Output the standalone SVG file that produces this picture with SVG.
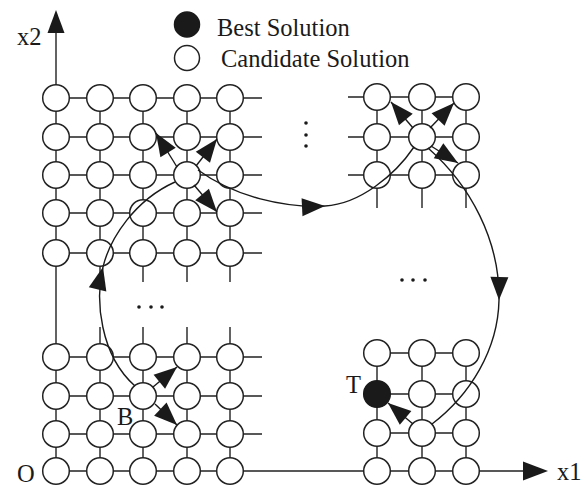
<svg xmlns="http://www.w3.org/2000/svg" width="586" height="488" viewBox="0 0 586 488">
<style>
.ln{fill:none;stroke:#222;stroke-width:1.4}
.nd{fill:#fff;stroke:#222;stroke-width:1.5}
.best{fill:#1a1a1a;stroke:#1a1a1a;stroke-width:1.5}
.head{fill:#1a1a1a;stroke:none}
.cv{fill:none;stroke:#1a1a1a;stroke-width:1.4}
.tx{font-family:"Liberation Serif","Times New Roman",serif;font-size:24.5px;fill:#1a1a1a}
.dot{fill:#1a1a1a}
</style>
<defs>
<marker id="ah" viewBox="-25 -10 26 20" refX="0" refY="0" markerWidth="26" markerHeight="20" markerUnits="userSpaceOnUse" orient="auto">
<path d="M0,0 L-23,-9 L-23,9 Z" fill="#1a1a1a"/>
</marker>
</defs>
<rect width="586" height="488" fill="#fff"/>
<g id="grid-lines" class="ln">
<path d="M56,33 V471 M56,471 H525"/>
<path d="M56,98 H262 M56,137 H262 M56,175 H262 M56,213 H262 M56,253 H262"/>
<path d="M100,98 V282 M143,98 V282 M187,98 V282 M230,98 V282"/>
<path d="M56,357 H262 M56,396 H262 M56,434 H262"/>
<path d="M100,327 V471 M143,327 V471 M187,327 V471 M230,327 V471"/>
<path d="M348,97 H466 M348,137 H466 M348,175 H466"/>
<path d="M377,97 V208 M422,97 V208 M466,97 V208"/>
<path d="M377,353 H466 M377,394 H466 M377,433 H466"/>
<path d="M377,353 V471 M422,353 V471 M466,353 V471"/>
</g>
<g id="axes">
<polygon class="head" points="56,10 47.5,33 64.5,33"/>
<polygon class="head" points="548,471 523,461.5 523,480.5"/>
<text class="tx" x="17" y="45">x2</text>
<text class="tx" x="557" y="480">x1</text>
<text class="tx" x="17" y="482">O</text>
</g>
<g id="nodes-top-left">
<g id="tl-1-1"><circle class="nd" cx="56" cy="98" r="13.3"/></g>
<g id="tl-1-2"><circle class="nd" cx="100" cy="98" r="13.3"/></g>
<g id="tl-1-3"><circle class="nd" cx="143" cy="98" r="13.3"/></g>
<g id="tl-1-4"><circle class="nd" cx="187" cy="98" r="13.3"/></g>
<g id="tl-1-5"><circle class="nd" cx="230" cy="98" r="13.3"/></g>
<g id="tl-2-1"><circle class="nd" cx="56" cy="137" r="13.3"/></g>
<g id="tl-2-2"><circle class="nd" cx="100" cy="137" r="13.3"/></g>
<g id="tl-2-3"><circle class="nd" cx="143" cy="137" r="13.3"/></g>
<g id="tl-2-4"><circle class="nd" cx="187" cy="137" r="13.3"/></g>
<g id="tl-2-5"><circle class="nd" cx="230" cy="137" r="13.3"/></g>
<g id="tl-3-1"><circle class="nd" cx="56" cy="175" r="13.3"/></g>
<g id="tl-3-2"><circle class="nd" cx="100" cy="175" r="13.3"/></g>
<g id="tl-3-3"><circle class="nd" cx="143" cy="175" r="13.3"/></g>
<g id="tl-3-4"><circle class="nd" cx="187" cy="175" r="13.3"/></g>
<g id="tl-3-5"><circle class="nd" cx="230" cy="175" r="13.3"/></g>
<g id="tl-4-1"><circle class="nd" cx="56" cy="213" r="13.3"/></g>
<g id="tl-4-2"><circle class="nd" cx="100" cy="213" r="13.3"/></g>
<g id="tl-4-3"><circle class="nd" cx="143" cy="213" r="13.3"/></g>
<g id="tl-4-4"><circle class="nd" cx="187" cy="213" r="13.3"/></g>
<g id="tl-4-5"><circle class="nd" cx="230" cy="213" r="13.3"/></g>
<g id="tl-5-1"><circle class="nd" cx="56" cy="253" r="13.3"/></g>
<g id="tl-5-2"><circle class="nd" cx="100" cy="253" r="13.3"/></g>
<g id="tl-5-3"><circle class="nd" cx="143" cy="253" r="13.3"/></g>
<g id="tl-5-4"><circle class="nd" cx="187" cy="253" r="13.3"/></g>
<g id="tl-5-5"><circle class="nd" cx="230" cy="253" r="13.3"/></g>
</g>
<g id="nodes-bottom-left">
<g id="bl-1-1"><circle class="nd" cx="56" cy="357" r="13.3"/></g>
<g id="bl-1-2"><circle class="nd" cx="100" cy="357" r="13.3"/></g>
<g id="bl-1-3"><circle class="nd" cx="143" cy="357" r="13.3"/></g>
<g id="bl-1-4"><circle class="nd" cx="187" cy="357" r="13.3"/></g>
<g id="bl-1-5"><circle class="nd" cx="230" cy="357" r="13.3"/></g>
<g id="bl-2-1"><circle class="nd" cx="56" cy="396" r="13.3"/></g>
<g id="bl-2-2"><circle class="nd" cx="100" cy="396" r="13.3"/></g>
<g id="bl-2-3"><circle class="nd" cx="143" cy="396" r="13.3"/></g>
<g id="bl-2-4"><circle class="nd" cx="187" cy="396" r="13.3"/></g>
<g id="bl-2-5"><circle class="nd" cx="230" cy="396" r="13.3"/></g>
<g id="bl-3-1"><circle class="nd" cx="56" cy="434" r="13.3"/></g>
<g id="bl-3-2"><circle class="nd" cx="100" cy="434" r="13.3"/></g>
<g id="bl-3-3"><circle class="nd" cx="143" cy="434" r="13.3"/></g>
<g id="bl-3-4"><circle class="nd" cx="187" cy="434" r="13.3"/></g>
<g id="bl-3-5"><circle class="nd" cx="230" cy="434" r="13.3"/></g>
<g id="bl-4-1"><circle class="nd" cx="56" cy="471" r="13.3"/></g>
<g id="bl-4-2"><circle class="nd" cx="100" cy="471" r="13.3"/></g>
<g id="bl-4-3"><circle class="nd" cx="143" cy="471" r="13.3"/></g>
<g id="bl-4-4"><circle class="nd" cx="187" cy="471" r="13.3"/></g>
<g id="bl-4-5"><circle class="nd" cx="230" cy="471" r="13.3"/></g>
</g>
<g id="nodes-top-right">
<g id="tr-1-1"><circle class="nd" cx="377" cy="97" r="13.3"/></g>
<g id="tr-1-2"><circle class="nd" cx="422" cy="97" r="13.3"/></g>
<g id="tr-1-3"><circle class="nd" cx="466" cy="97" r="13.3"/></g>
<g id="tr-2-1"><circle class="nd" cx="377" cy="137" r="13.3"/></g>
<g id="tr-2-2"><circle class="nd" cx="422" cy="137" r="13.3"/></g>
<g id="tr-2-3"><circle class="nd" cx="466" cy="137" r="13.3"/></g>
<g id="tr-3-1"><circle class="nd" cx="377" cy="175" r="13.3"/></g>
<g id="tr-3-2"><circle class="nd" cx="422" cy="175" r="13.3"/></g>
<g id="tr-3-3"><circle class="nd" cx="466" cy="175" r="13.3"/></g>
</g>
<g id="nodes-bottom-right">
<g id="br-1-1"><circle class="nd" cx="377" cy="353" r="13.3"/></g>
<g id="br-1-2"><circle class="nd" cx="422" cy="353" r="13.3"/></g>
<g id="br-1-3"><circle class="nd" cx="466" cy="353" r="13.3"/></g>
<g id="br-2-1"><circle class="best" cx="377" cy="394" r="13.3"/></g>
<g id="br-2-2"><circle class="nd" cx="422" cy="394" r="13.3"/></g>
<g id="br-2-3"><circle class="nd" cx="466" cy="394" r="13.3"/></g>
<g id="br-3-1"><circle class="nd" cx="377" cy="433" r="13.3"/></g>
<g id="br-3-2"><circle class="nd" cx="422" cy="433" r="13.3"/></g>
<g id="br-3-3"><circle class="nd" cx="466" cy="433" r="13.3"/></g>
<g id="br-4-1"><circle class="nd" cx="377" cy="471" r="13.3"/></g>
<g id="br-4-2"><circle class="nd" cx="422" cy="471" r="13.3"/></g>
<g id="br-4-3"><circle class="nd" cx="466" cy="471" r="13.3"/></g>
</g>
<g id="ellipses">
<circle class="dot" cx="306" cy="123" r="1.8"/>
<circle class="dot" cx="306" cy="135" r="1.8"/>
<circle class="dot" cx="306" cy="146" r="1.8"/>
<circle class="dot" cx="139" cy="307" r="1.8"/>
<circle class="dot" cx="151" cy="307" r="1.8"/>
<circle class="dot" cx="162" cy="307" r="1.8"/>
<circle class="dot" cx="402" cy="280" r="1.8"/>
<circle class="dot" cx="413" cy="280" r="1.8"/>
<circle class="dot" cx="425" cy="280" r="1.8"/>
</g>
<g id="connectors">
<path class="cv" d="M135,386 C100,355 95,300 103,267" marker-end="url(#ah)"/>
<path class="cv" d="M103,267 C110,238 135,200 175,182"/>
<path class="cv" d="M198,170 C235,197 285,208 325,206" marker-end="url(#ah)"/>
<path class="cv" d="M325,206 C360,204 395,175 414,147"/>
<path class="cv" d="M428,148 C470,185 500,240 499,300" marker-end="url(#ah)"/>
<path class="cv" d="M499,300 C498,350 470,395 432,424"/>
<path class="cv" d="M177,167 L156,133" marker-end="url(#ah)"/>
<path class="cv" d="M196,166 L217,139" marker-end="url(#ah)"/>
<path class="cv" d="M194,185 L217,212" marker-end="url(#ah)"/>
<path class="cv" d="M413,128 L391,102" marker-end="url(#ah)"/>
<path class="cv" d="M430,128 L454,103" marker-end="url(#ah)"/>
<path class="cv" d="M431,146 L458,163" marker-end="url(#ah)"/>
<path class="cv" d="M153,387 L177,367" marker-end="url(#ah)"/>
<path class="cv" d="M155,404 L177,425" marker-end="url(#ah)"/>
<path class="cv" d="M413,424 L388,403" marker-end="url(#ah)"/>
</g>
<g id="labels">
<text class="tx" x="117" y="425">B</text>
<text class="tx" x="346" y="393">T</text>
</g>
<g id="legend">
<g id="legend-best"><circle class="best" cx="187" cy="24.5" r="12.5"/><text class="tx" x="217" y="36">Best Solution</text></g>
<g id="legend-candidate"><circle class="nd" cx="187" cy="58" r="12.5"/><text class="tx" x="221" y="67">Candidate Solution</text></g>
</g>
</svg>
